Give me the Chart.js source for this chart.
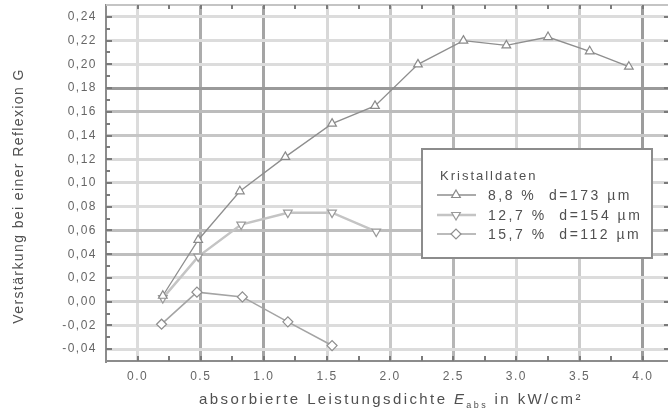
<!DOCTYPE html>
<html>
<head>
<meta charset="utf-8">
<script src="https://cdn.jsdelivr.net/npm/chart.js@4/dist/chart.umd.min.js"></script>
<style>
  html, body { margin: 0; padding: 0; background: #fff; }
  #wrap { width: 668px; height: 411px; }
</style>
</head>
<body>
<div id="wrap"><canvas id="chart" width="668" height="411"></canvas></div>
<script>
// absorbed power density (kW/cm²) and gain per reflection, one pair per crystal
const x88 = [0.20, 0.48, 0.81, 1.17, 1.54, 1.88, 2.22, 2.58, 2.92, 3.25, 3.58, 3.89];
const g88 = [0.005, 0.052, 0.093, 0.122, 0.150, 0.165, 0.200, 0.220, 0.216, 0.223, 0.211, 0.198];
const x127 = [0.20, 0.48, 0.82, 1.19, 1.54, 1.89];
const g127 = [0.003, 0.038, 0.065, 0.075, 0.075, 0.059];
const x157 = [0.19, 0.47, 0.83, 1.19, 1.54];
const g157 = [-0.019, 0.008, 0.004, -0.017, -0.037];

const seriesLabels = ['8,8 %  d=173 µm', '12,7 %  d=154 µm', '15,7 %  d=112 µm'];
const legendTitle = 'Kristalldaten';
const xTicks = [0, 0.5, 1.0, 1.5, 2.0, 2.5, 3.0, 3.5, 4.0];
const yTicks = [-0.04, -0.02, 0, 0.02, 0.04, 0.06, 0.08, 0.10, 0.12, 0.14, 0.16, 0.18, 0.20, 0.22, 0.24];
const yTitle = 'Verstärkung bei einer Reflexion G';
const xTitleParts = ['absorbierte Leistungsdichte ', 'E', 'abs', ' in kW/cm²'];

const FONT = '"Liberation Sans", Arial, sans-serif';
// the scan has uneven grid tones, copy them roughly
const xGridColors = ['#dcdcdc', '#acacac', '#a4a4a4', '#d8d8d8', '#c8c8c8', '#b6b6b6', '#d8d8d8', '#cccccc', '#9c9c9c'];
const yGridColors = ['#dcdcdc', '#dcdcdc', '#d2d2d2', '#dcdcdc', '#bebebe', '#bebebe', '#dcdcdc', '#d8d8d8', '#d8d8d8',
                     '#c6c6c6', '#bcbcbc', '#9a9a9a', '#dcdcdc', '#dcdcdc', '#dcdcdc'];

const toPoints = (xs, ys) => xs.map((x, i) => ({ x, y: ys[i] }));

const frame = {
    id: 'frame',
    beforeDraw(chart) {
        chart.ctx.letterSpacing = '1.5px';
    },
    afterDraw(chart) {
        const { ctx, chartArea: a, scales: { x, y } } = chart;
        ctx.save();
        ctx.letterSpacing = '0px';

        // top frame line
        ctx.strokeStyle = '#c4c4c4';
        ctx.lineWidth = 2;
        ctx.beginPath();
        ctx.moveTo(a.left, a.top);
        ctx.lineTo(a.right, a.top);
        ctx.stroke();

        // inward ticks
        ctx.strokeStyle = '#7a7a7a';
        ctx.lineWidth = 2;
        ctx.beginPath();
        for (let i = -4; i <= 24; i++) {
            const py = Math.round(y.getPixelForValue(i / 100));
            const len = i % 2 === 0 ? 6 : 4;
            ctx.moveTo(a.left, py);
            ctx.lineTo(a.left + len, py);
            if (i % 2 === 0) {
                ctx.moveTo(a.right, py);
                ctx.lineTo(a.right - 4, py);
            }
        }
        for (let i = 0; i <= 16; i++) {
            const px = Math.round(x.getPixelForValue(i * 0.25));
            ctx.moveTo(px, a.bottom);
            ctx.lineTo(px, a.bottom - 5);
            ctx.moveTo(px, a.top);
            ctx.lineTo(px, a.top + 4);
        }
        ctx.stroke();

        // y title
        ctx.fillStyle = '#505050';
        ctx.font = '14px ' + FONT;
        ctx.letterSpacing = '1.4px';
        ctx.textAlign = 'center';
        ctx.textBaseline = 'middle';
        ctx.save();
        ctx.translate(19, 196);
        ctx.rotate(-Math.PI / 2);
        ctx.fillText(yTitle, 0, 0);
        ctx.restore();

        // x title with italic E and subscript
        ctx.textAlign = 'left';
        ctx.letterSpacing = '2.4px';
        const normal = '15px ' + FONT, italic = 'italic 15px ' + FONT, sub = '9px ' + FONT;
        const fonts = [normal, italic, sub, normal];
        const widths = xTitleParts.map((t, i) => { ctx.font = fonts[i]; return ctx.measureText(t).width; });
        let tx = (a.left + a.right) / 2 + 4 - widths.reduce((s, w) => s + w, 0) / 2;
        const ty = 400;
        xTitleParts.forEach((t, i) => {
            ctx.font = fonts[i];
            ctx.fillText(t, tx, i === 2 ? ty + 6 : ty);
            tx += widths[i];
        });

        // legend box
        const box = { l: 422, t: 149, r: 652, b: 258 };
        ctx.fillStyle = '#fff';
        ctx.fillRect(box.l, box.t, box.r - box.l, box.b - box.t);
        ctx.strokeStyle = '#8c8c8c';
        ctx.lineWidth = 2;
        ctx.strokeRect(box.l, box.t, box.r - box.l, box.b - box.t);

        ctx.fillStyle = '#505050';
        ctx.font = '13px ' + FONT;
        ctx.letterSpacing = '2px';
        ctx.fillText(legendTitle, 440, 176);

        const rows = [195, 215, 234];
        chart.data.datasets.forEach((ds, i) => {
            const ry = rows[i];
            ctx.strokeStyle = ds.borderColor;
            ctx.lineWidth = ds.borderWidth;
            ctx.beginPath();
            ctx.moveTo(437, ry);
            ctx.lineTo(476, ry);
            ctx.stroke();
            ctx.fillStyle = '#fff';
            ctx.strokeStyle = ds.pointBorderColor;
            ctx.lineWidth = ds.pointBorderWidth;
            Chart.helpers.drawPoint(ctx, {
                pointStyle: ds.pointStyle,
                rotation: ds.pointRotation || 0,
                radius: ds.pointRadius,
                borderWidth: ds.pointBorderWidth
            }, 456, ry);
            ctx.fillStyle = '#505050';
            ctx.font = '14px ' + FONT;
            ctx.letterSpacing = '2.5px';
            ctx.fillText(seriesLabels[i], 488, ry + 1);
        });
        ctx.restore();
    }
};

new Chart(document.getElementById('chart'), {
    type: 'scatter',
    data: {
        datasets: [{
            label: seriesLabels[0],
            data: toPoints(x88, g88),
            showLine: true,
            borderColor: '#8e8e8e',
            borderWidth: 1.3,
            pointStyle: 'triangle',
            pointRadius: 5,
            pointBackgroundColor: '#fff',
            pointBorderColor: '#8a8a8a',
            pointBorderWidth: 1.2
        }, {
            label: seriesLabels[1],
            data: toPoints(x127, g127),
            showLine: true,
            borderColor: '#c4c4c4',
            borderWidth: 2.5,
            pointStyle: 'triangle',
            pointRotation: 180,
            pointRadius: 5,
            pointBackgroundColor: '#fff',
            pointBorderColor: '#9a9a9a',
            pointBorderWidth: 1.2
        }, {
            label: seriesLabels[2],
            data: toPoints(x157, g157),
            showLine: true,
            borderColor: '#a4a4a4',
            borderWidth: 1.6,
            pointStyle: 'rectRot',
            pointRadius: 5,
            pointBackgroundColor: '#fff',
            pointBorderColor: '#8e8e8e',
            pointBorderWidth: 1.2
        }]
    },
    options: {
        responsive: false,
        devicePixelRatio: 1,
        animation: false,
        layout: { autoPadding: false, padding: { top: 5, right: 0, left: 0, bottom: 0 } },
        plugins: {
            legend: { display: false },
            tooltip: { enabled: false }
        },
        scales: {
            x: {
                type: 'linear',
                min: -0.25,
                max: 4.2,
                afterBuildTicks: s => { s.ticks = xTicks.map(v => ({ value: v })); },
                afterFit: s => { s.height = 50; s.paddingLeft = 0; s.paddingRight = 0; },
                grid: { color: c => xGridColors[c.index], lineWidth: 3, drawTicks: false },
                border: { color: '#8c8c8c', width: 2 },
                ticks: {
                    callback: v => v.toFixed(1),
                    padding: 8,
                    color: '#666',
                    autoSkip: false,
                    maxRotation: 0,
                    font: { family: FONT, size: 12 }
                }
            },
            y: {
                min: -0.05,
                max: 0.25,
                afterBuildTicks: s => { s.ticks = yTicks.map(v => ({ value: v })); },
                afterFit: s => { s.width = 106; s.paddingTop = 0; s.paddingBottom = 0; },
                grid: { color: c => yGridColors[c.index], lineWidth: 3, drawTicks: false },
                border: { color: '#8c8c8c', width: 2 },
                ticks: {
                    callback: v => v.toFixed(2).replace('.', ','),
                    padding: 9,
                    color: '#666',
                    autoSkip: false,
                    font: { family: FONT, size: 12 }
                }
            }
        }
    },
    plugins: [frame]
});
</script>
</body>
</html>
